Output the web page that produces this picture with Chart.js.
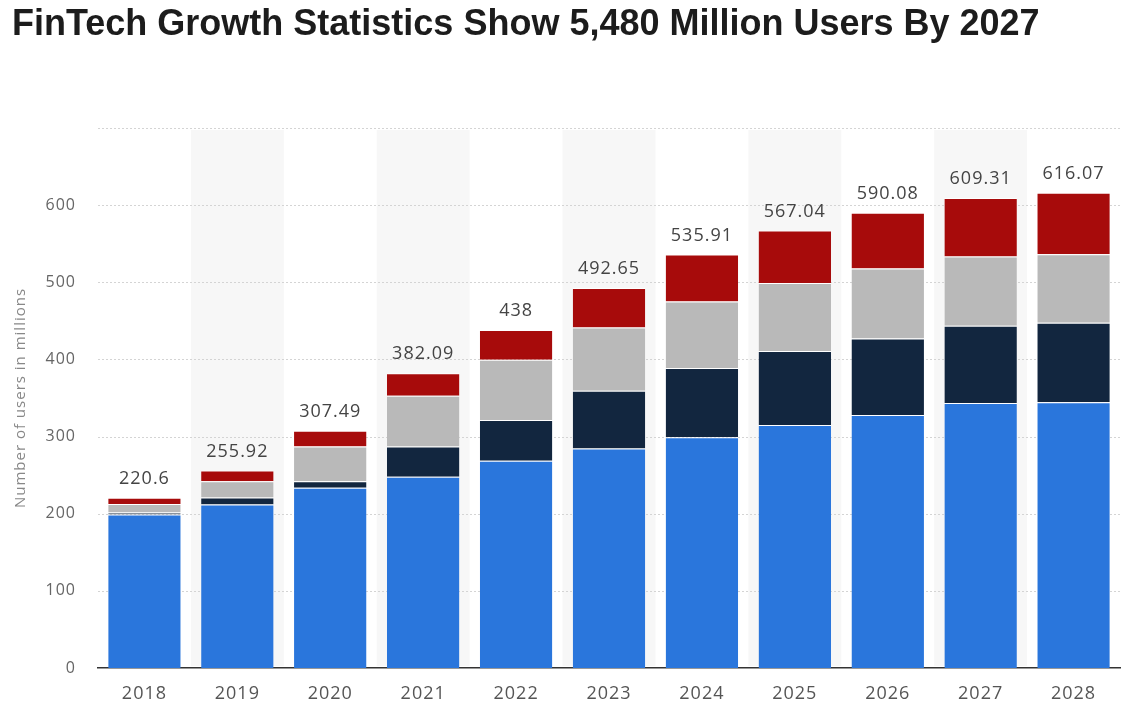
<!DOCTYPE html>
<html>
<head>
<meta charset="utf-8">
<script src="https://cdn.jsdelivr.net/npm/chart.js@4.4.1/dist/chart.umd.min.js"></script>
<style>
  html, body { margin: 0; padding: 0; background: #fff; width: 1135px; height: 723px; overflow: hidden; }
  #title { position: absolute; left: 12px; top: 2px; font-family: "Liberation Sans", Arial, sans-serif; font-weight: bold; font-size: 36px; color: #1c1c1c; white-space: nowrap; }
  #wrap { position: absolute; left: 0; top: 0; width: 1135px; height: 723px; }
</style>
</head>
<body>
<div id="wrap"><canvas id="c" width="1135" height="723"></canvas></div>
<div id="title">FinTech Growth Statistics Show 5,480 Million Users By 2027</div>
<script>
const years = ["2018","2019","2020","2021","2022","2023","2024","2025","2026","2027","2028"];
const seriesBlue = [199, 212, 233.5, 248, 268.5, 284.5, 299, 315, 328, 343.5, 344.5];
const seriesNavy = [2.5, 9, 8.5, 39, 53, 75, 90, 96, 99, 100, 103];
const seriesGray = [11, 21, 45, 66, 78, 82, 86, 88, 91, 90, 89];
const seriesRed  = [8.1, 13.92, 20.49, 29.09, 38.5, 51.15, 60.91, 68.04, 72.08, 75.81, 79.57];
const totalLabels = ["220.6","255.92","307.49","382.09","438","492.65","535.91","567.04","590.08","609.31","616.07"];
const yTicks = [0, 100, 200, 300, 400, 500, 600, 700];

const spacingPlugin = {
  id: 'spacing',
  beforeDraw(chart) { chart.ctx.letterSpacing = '1px'; }
};

const bandPlugin = {
  id: 'bands',
  beforeDatasetsDraw(chart) {
    const {ctx, chartArea, scales} = chart;
    const x = scales.x;
    const half = (x.getPixelForValue(1) - x.getPixelForValue(0)) / 2;
    ctx.save();
    ctx.fillStyle = '#f7f7f7';
    years.forEach((y, i) => {
      if (i % 2 === 1) {
        const cx = x.getPixelForValue(i);
        ctx.fillRect(cx - half, chartArea.top + 2, half * 2, chartArea.bottom - chartArea.top - 4);
      }
    });
    ctx.restore();
  }
};

const gridRedraw = {
  id: 'gridRedraw',
  beforeDatasetsDraw(chart) {
    const {ctx, chartArea, scales} = chart;
    const y = scales.y;
    ctx.save();
    ctx.strokeStyle = '#d4d4d4';
    ctx.lineWidth = 1;
    ctx.setLineDash([2, 2]);
    yTicks.forEach(v => {
      if (v === 0) return;
      const py = Math.round(y.getPixelForValue(v)) + 0.5;
      ctx.beginPath();
      ctx.moveTo(chartArea.left, py);
      ctx.lineTo(chartArea.right, py);
      ctx.stroke();
    });
    ctx.restore();
  }
};

const totalsPlugin = {
  id: 'totals',
  afterDatasetsDraw(chart) {
    const {ctx} = chart;
    const meta = chart.getDatasetMeta(chart.data.datasets.length - 1);
    ctx.save();
    ctx.letterSpacing = '1px';
    ctx.font = '18px "Open Sans", "DejaVu Sans", sans-serif';
    ctx.fillStyle = '#444';
    ctx.textAlign = 'center';
    ctx.textBaseline = 'bottom';
    meta.data.forEach((bar, i) => {
      ctx.fillText(totalLabels[i], bar.x, bar.y - 10);
    });
    ctx.restore();
  }
};

const mk = (label, data, color) => ({
  label, data, backgroundColor: color,
  borderColor: 'rgba(255,255,255,0.9)',
  borderWidth: {top: 1, bottom: 0, left: 0, right: 0},
  borderSkipped: false,
  barPercentage: 0.78, categoryPercentage: 1.0
});

new Chart(document.getElementById('c'), {
  type: 'bar',
  data: {
    labels: years,
    datasets: [
      mk('Blue', seriesBlue, '#2a76dc'),
      mk('Navy', seriesNavy, '#12263f'),
      mk('Gray', seriesGray, '#b9b9b9'),
      mk('Red', seriesRed, '#a70b0b')
    ]
  },
  options: {
    responsive: false,
    animation: false,
    layout: { padding: { top: 128, right: 15, left: 12, bottom: 0 } },
    plugins: { legend: { display: false }, tooltip: { enabled: false }, title: { display: false } },
    scales: {
      x: {
        stacked: true,
        grid: { display: false },
        border: { display: true, color: '#333', width: 1.5 },
        ticks: { color: '#555', font: { family: '"Open Sans", "DejaVu Sans", sans-serif', size: 18 }, padding: 7 },
        afterFit(s) { s.height = 55; }
      },
      y: {
        stacked: true,
        min: 0, max: 700,
        afterBuildTicks(s) { s.ticks = yTicks.map(v => ({ value: v })); },
        grid: { display: false },
        border: { display: false },
        ticks: {
          color: '#666',
          font: { family: '"Open Sans", "DejaVu Sans", sans-serif', size: 16 },
          padding: 14,
          callback: (v) => v === 700 ? '' : String(v)
        },
        title: {
          display: true, text: 'Number of users in millions', color: '#888',
          font: { family: '"Open Sans", "DejaVu Sans", sans-serif', size: 15 },
          padding: { top: 0, bottom: 10 }
        },
        afterFit(s) { s.width = 86; }
      }
    }
  },
  plugins: [spacingPlugin, bandPlugin, gridRedraw, totalsPlugin]
});
</script>
</body>
</html>
